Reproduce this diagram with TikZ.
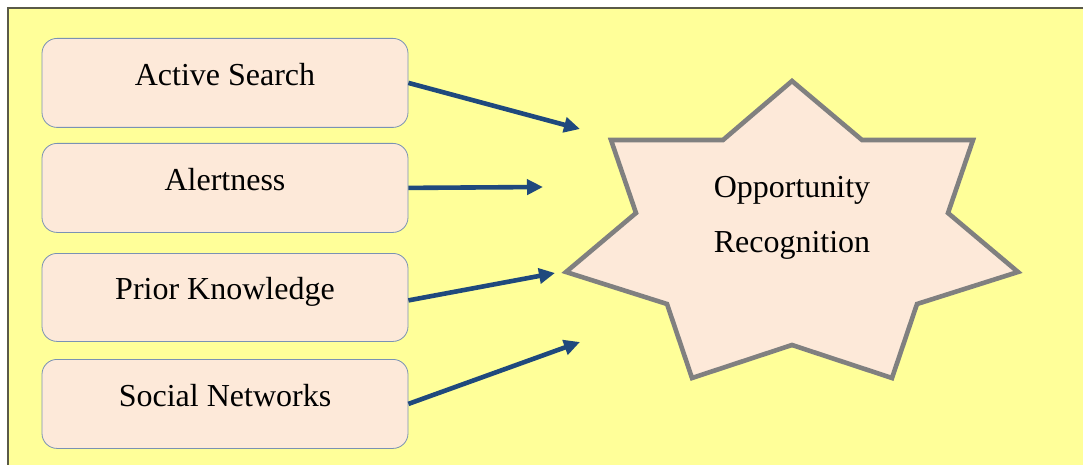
\documentclass[tikz,border=0pt]{standalone}
\usepackage{fontspec}
\setmainfont{Liberation Serif}
\usetikzlibrary{arrows.meta}
\definecolor{bgyellow}{HTML}{FFFF99}
\definecolor{peach}{HTML}{FDE9D9}
\definecolor{boxline}{HTML}{7A92B4}
\definecolor{arrowblue}{HTML}{1F497D}
\definecolor{stargray}{HTML}{808080}
\definecolor{frameline}{HTML}{5A5A48}
\tikzset{
  factor/.style={draw=boxline, line width=0.8pt, fill=peach, rounded corners=15pt,
    minimum width=366pt, inner sep=0pt, text height=47pt, text depth=42pt,
    font=\fontsize{32}{38}\selectfont},
  flow/.style={draw=arrowblue, line width=4.6pt, -{Triangle[length=16pt,width=15pt]}},
  starshape/.style={draw=stargray, fill=peach, line width=4.6pt, line join=miter},
}
\begin{document}
\begin{tikzpicture}[x=1pt,y=-1pt]
\useasboundingbox (0,0) rectangle (1083,465);
\fill[bgyellow] (8,8) rectangle (1083,465);
\draw[frameline, line width=1.2pt] (8,465) -- (8,8) -- (1083,8);

\node[factor] (as) at (225,38) [anchor=north] {Active Search};
\node[factor] (al) at (225,143) [anchor=north] {Alertness};
\node[factor] (pk) at (225,253) [anchor=north, text height=46pt, text depth=42pt] {Prior Knowledge};
\node[factor] (sn) at (225,359) [anchor=north] {Social Networks};

\draw[starshape] (792,81) -- (862,140) -- (973,140) -- (948,213) -- (1018,272)
  -- (917,304) -- (892,378) -- (792,345) -- (692,378) -- (667,304)
  -- (566,272) -- (636,213) -- (611,140) -- (723,140) -- cycle;
\node[align=center, inner sep=0pt, font=\fontsize{32}{55}\selectfont] (or) at (792,218) {Opportunity\\Recognition};

\coordinate (t1) at (580,129);
\coordinate (t2) at (543,187);
\coordinate (t3) at (555,273);
\coordinate (t4) at (580,342);
\draw[flow] (as.east) -- (t1);
\draw[flow] (al.east) -- (t2);
\draw[flow] (pk.east) ++(0,3) -- (t3);
\draw[flow] (sn.east) -- (t4);
\end{tikzpicture}
\end{document}
